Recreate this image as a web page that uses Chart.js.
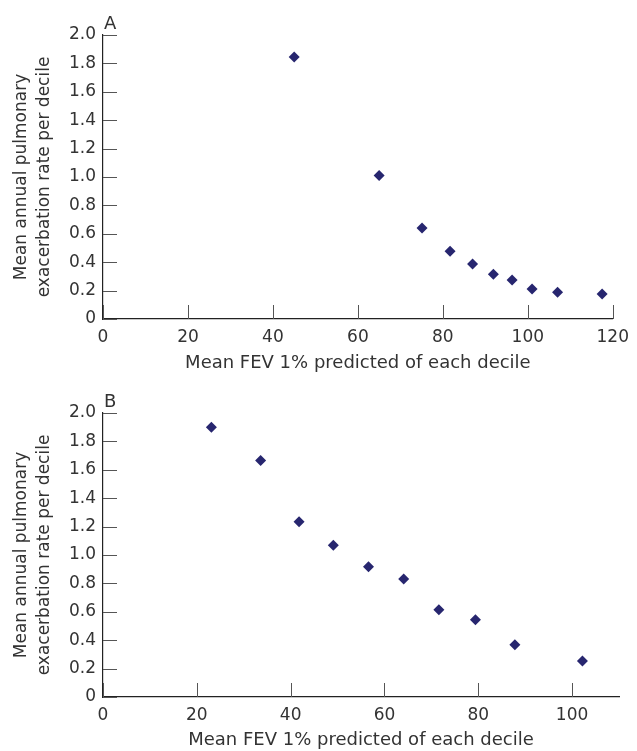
<!DOCTYPE html>
<html>
<head>
<meta charset="utf-8">
<script src="https://cdn.jsdelivr.net/npm/chart.js@4"></script>
<style>
  html, body { margin: 0; padding: 0; background: #fff; }
  .panel { position: relative; width: 637px; }
  #panel-a { height: 376px; }
  #panel-b { height: 375px; }
</style>
</head>
<body>
<div class="panel" id="panel-a"><canvas id="chart-a"></canvas></div>
<div class="panel" id="panel-b"><canvas id="chart-b"></canvas></div>
<script>
// Panel A: mean FEV1 % predicted per decile vs exacerbation rate
const fevA = [45, 65, 75.1, 81.7, 87, 91.9, 96.3, 101, 107, 117.5];
const rateA = [1.845, 1.01, 0.64, 0.477, 0.387, 0.315, 0.275, 0.211, 0.188, 0.176];

// Panel B
const fevB = [23.1, 33.6, 41.8, 49.1, 56.6, 64.1, 71.6, 79.4, 87.8, 102.2];
const rateB = [1.9, 1.666, 1.234, 1.068, 0.918, 0.831, 0.615, 0.544, 0.368, 0.254];

const yTitle = ['Mean annual pulmonary', 'exacerbation rate per decile'];
const xTitle = 'Mean FEV 1% predicted of each decile';

const FONT = '"DejaVu Sans", sans-serif';
const TEXT = '#333333';
const MARK = '#27266f';

// ticks in the reference point inward, so draw them ourselves
const inwardTicks = {
  id: 'inwardTicks',
  afterDraw(chart, args, opts) {
    const { ctx, chartArea, scales } = chart;
    const len = 14;
    ctx.save();
    ctx.strokeStyle = '#555';
    ctx.lineWidth = 1;
    scales.y.ticks.forEach((t) => {
      const py = Math.round(scales.y.getPixelForValue(t.value)) + 0.5;
      ctx.beginPath();
      ctx.moveTo(chartArea.left, py);
      ctx.lineTo(chartArea.left + len, py);
      ctx.stroke();
    });
    scales.x.ticks.forEach((t) => {
      const px = Math.round(scales.x.getPixelForValue(t.value)) + 0.5;
      ctx.beginPath();
      ctx.moveTo(px, chartArea.bottom);
      ctx.lineTo(px, chartArea.bottom - len);
      ctx.stroke();
    });
    // panel letter
    ctx.fillStyle = TEXT;
    ctx.font = '18px ' + FONT;
    ctx.textBaseline = 'alphabetic';
    ctx.fillText(opts.letter, chartArea.left + 1, chartArea.top - 6);
    ctx.restore();
  },
};

function makeChart(id, xs, ys, xMax, letter, pad, xHeight) {
  const points = xs.map((x, i) => ({ x, y: ys[i] }));
  return new Chart(document.getElementById(id), {
    type: 'scatter',
    data: {
      datasets: [{
        data: points,
        pointStyle: 'rectRot',
        pointRadius: 5.5,
        pointHoverRadius: 5.5,
        backgroundColor: MARK,
        borderColor: MARK,
        borderWidth: 0,
      }],
    },
    options: {
      responsive: true,
      maintainAspectRatio: false,
      animation: false,
      events: [],
      layout: { padding: { top: pad.top, right: 18, left: 0, bottom: pad.bottom } },
      plugins: {
        legend: { display: false },
        tooltip: { enabled: false },
        inwardTicks: { letter },
      },
      scales: {
        x: {
          type: 'linear',
          min: 0,
          max: xMax,
          grid: { display: false, drawTicks: false },
          border: { display: true, color: '#222', width: 1.2 },
          ticks: {
            stepSize: 20,
            includeBounds: false,
            padding: 8,
            color: TEXT,
            font: { family: FONT, size: 17 },
          },
          title: {
            display: true,
            text: xTitle,
            color: TEXT,
            font: { family: FONT, size: 18 },
            padding: { top: 0, bottom: pad.titleBottom },
          },
          afterFit(scale) { scale.height = xHeight; },
        },
        y: {
          min: 0,
          max: 2,
          grid: { display: false, drawTicks: false },
          border: { display: true, color: '#222', width: 1.2 },
          ticks: {
            stepSize: 0.2,
            padding: 7,
            color: TEXT,
            font: { family: FONT, size: 17 },
            callback: (v) => (v === 0 ? '0' : v.toFixed(1)),
          },
          title: {
            display: true,
            text: yTitle,
            color: TEXT,
            font: { family: FONT, size: 17, lineHeight: 1.35 },
            padding: { top: 10, bottom: 0 },
          },
          afterFit(scale) { scale.width = 103; },
        },
      },
    },
    plugins: [inwardTicks],
  });
}

makeChart('chart-a', fevA, rateA, 120, 'A', { top: 35, bottom: 0, titleBottom: 2 }, 57);
makeChart('chart-b', fevB, rateB, 110, 'B', { top: 37, bottom: 0, titleBottom: 0 }, 54);
</script>
</body>
</html>
